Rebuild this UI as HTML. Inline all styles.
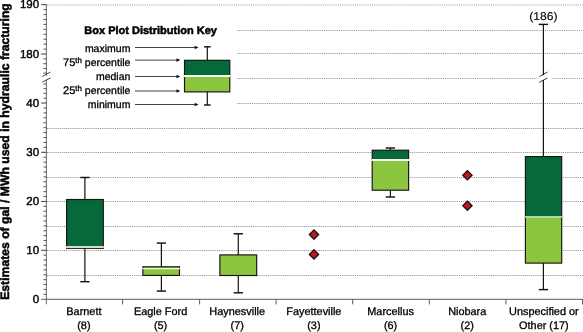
<!DOCTYPE html>
<html lang="en"><head><meta charset="utf-8"><title>Box plot</title>
<style>html,body{margin:0;padding:0;background:#fff}svg{display:block;will-change:transform}text{font-family:"Liberation Sans", Arial, Helvetica, sans-serif;fill:#000;stroke:#000;stroke-width:0.3px;text-rendering:geometricPrecision}.tk text{stroke-width:0.42px}text.b{stroke-width:0.5px}text.n{stroke-width:0.12px}</style></head><body>
<svg width="583" height="332" viewBox="0 0 583 332">
<rect width="583" height="332" fill="#fff"/>
<g stroke="#8e8e8e" stroke-width="1" stroke-dasharray="0.945 0.945" fill="none">
<line x1="47" y1="5.0" x2="583" y2="5.0" stroke="#9a9a9a"/>
<line x1="237" y1="30.5" x2="583" y2="30.5"/>
<line x1="237" y1="53.5" x2="583" y2="53.5"/>
<line x1="237" y1="78.5" x2="583" y2="78.5"/>
<line x1="237" y1="103.5" x2="583" y2="103.5"/>
<line x1="47" y1="128.5" x2="583" y2="128.5"/>
<line x1="47" y1="152.5" x2="583" y2="152.5"/>
<line x1="47" y1="177.5" x2="583" y2="177.5"/>
<line x1="47" y1="201.5" x2="583" y2="201.5"/>
<line x1="47" y1="226.5" x2="583" y2="226.5"/>
<line x1="47" y1="250.5" x2="583" y2="250.5"/>
<line x1="47" y1="275.5" x2="583" y2="275.5"/>
</g>
<g stroke="#777" stroke-width="1.1" fill="none">
<line x1="46.4" y1="4.2" x2="46.4" y2="75.8"/>
<line x1="46.4" y1="79.4" x2="46.4" y2="304.3"/>
</g>
<g stroke="#4a4a4a" stroke-width="0.9" fill="none">
<line x1="41.2" y1="299.3" x2="582.9" y2="299.3"/>
<line x1="41.2" y1="4.7" x2="46.4" y2="4.7" stroke="#3c3c3c" stroke-width="1"/>
<line x1="41.2" y1="54.0" x2="46.4" y2="54.0" stroke="#3c3c3c" stroke-width="1"/>
<line x1="41.2" y1="103.0" x2="46.4" y2="103.0" stroke="#3c3c3c" stroke-width="1"/>
<line x1="41.2" y1="152.3" x2="46.4" y2="152.3" stroke="#3c3c3c" stroke-width="1"/>
<line x1="41.2" y1="201.45" x2="46.4" y2="201.45" stroke="#3c3c3c" stroke-width="1"/>
<line x1="41.2" y1="250.3" x2="46.4" y2="250.3" stroke="#3c3c3c" stroke-width="1"/>
<line x1="43.4" y1="9.63" x2="46.4" y2="9.63"/>
<line x1="43.4" y1="14.56" x2="46.4" y2="14.56"/>
<line x1="43.4" y1="19.49" x2="46.4" y2="19.49"/>
<line x1="43.4" y1="24.42" x2="46.4" y2="24.42"/>
<line x1="43.4" y1="29.35" x2="46.4" y2="29.35"/>
<line x1="43.4" y1="34.28" x2="46.4" y2="34.28"/>
<line x1="43.4" y1="39.21" x2="46.4" y2="39.21"/>
<line x1="43.4" y1="44.14" x2="46.4" y2="44.14"/>
<line x1="43.4" y1="49.07" x2="46.4" y2="49.07"/>
<line x1="43.4" y1="107.93" x2="46.4" y2="107.93"/>
<line x1="43.4" y1="112.86" x2="46.4" y2="112.86"/>
<line x1="43.4" y1="117.79" x2="46.4" y2="117.79"/>
<line x1="43.4" y1="122.72" x2="46.4" y2="122.72"/>
<line x1="43.4" y1="127.65" x2="46.4" y2="127.65"/>
<line x1="43.4" y1="132.58" x2="46.4" y2="132.58"/>
<line x1="43.4" y1="137.51" x2="46.4" y2="137.51"/>
<line x1="43.4" y1="142.44" x2="46.4" y2="142.44"/>
<line x1="43.4" y1="147.37" x2="46.4" y2="147.37"/>
<line x1="43.4" y1="157.22" x2="46.4" y2="157.22"/>
<line x1="43.4" y1="162.13" x2="46.4" y2="162.13"/>
<line x1="43.4" y1="167.05" x2="46.4" y2="167.05"/>
<line x1="43.4" y1="171.96" x2="46.4" y2="171.96"/>
<line x1="43.4" y1="176.88" x2="46.4" y2="176.88"/>
<line x1="43.4" y1="181.79" x2="46.4" y2="181.79"/>
<line x1="43.4" y1="186.70" x2="46.4" y2="186.70"/>
<line x1="43.4" y1="191.62" x2="46.4" y2="191.62"/>
<line x1="43.4" y1="196.53" x2="46.4" y2="196.53"/>
<line x1="43.4" y1="206.33" x2="46.4" y2="206.33"/>
<line x1="43.4" y1="211.22" x2="46.4" y2="211.22"/>
<line x1="43.4" y1="216.10" x2="46.4" y2="216.10"/>
<line x1="43.4" y1="220.99" x2="46.4" y2="220.99"/>
<line x1="43.4" y1="225.88" x2="46.4" y2="225.88"/>
<line x1="43.4" y1="230.76" x2="46.4" y2="230.76"/>
<line x1="43.4" y1="235.65" x2="46.4" y2="235.65"/>
<line x1="43.4" y1="240.53" x2="46.4" y2="240.53"/>
<line x1="43.4" y1="245.42" x2="46.4" y2="245.42"/>
<line x1="43.4" y1="255.19" x2="46.4" y2="255.19"/>
<line x1="43.4" y1="260.08" x2="46.4" y2="260.08"/>
<line x1="43.4" y1="264.97" x2="46.4" y2="264.97"/>
<line x1="43.4" y1="269.86" x2="46.4" y2="269.86"/>
<line x1="43.4" y1="274.75" x2="46.4" y2="274.75"/>
<line x1="43.4" y1="279.64" x2="46.4" y2="279.64"/>
<line x1="43.4" y1="284.53" x2="46.4" y2="284.53"/>
<line x1="43.4" y1="289.42" x2="46.4" y2="289.42"/>
<line x1="43.4" y1="294.31" x2="46.4" y2="294.31"/>
<line x1="43.4" y1="58.90" x2="46.4" y2="58.90"/>
<line x1="43.4" y1="63.70" x2="46.4" y2="63.70"/>
<line x1="43.4" y1="68.50" x2="46.4" y2="68.50"/>
<line x1="43.4" y1="73.10" x2="46.4" y2="73.10"/>
<line x1="43.4" y1="98.20" x2="46.4" y2="98.20"/>
<line x1="43.4" y1="93.40" x2="46.4" y2="93.40"/>
<line x1="43.4" y1="88.60" x2="46.4" y2="88.60"/>
<line x1="43.4" y1="83.90" x2="46.4" y2="83.90"/>
<line x1="122.6" y1="299.2" x2="122.6" y2="304.4"/>
<line x1="199.6" y1="299.2" x2="199.6" y2="304.4"/>
<line x1="276.1" y1="299.2" x2="276.1" y2="304.4"/>
<line x1="352.7" y1="299.2" x2="352.7" y2="304.4"/>
<line x1="429.3" y1="299.2" x2="429.3" y2="304.4"/>
<line x1="505.9" y1="299.2" x2="505.9" y2="304.4"/>
<line x1="582.5" y1="299.2" x2="582.5" y2="304.4"/>
</g>
<g stroke="#333" stroke-width="0.9" fill="none">
<line x1="42.3" y1="76.5" x2="50.5" y2="72"/><line x1="42.3" y1="82.1" x2="50.5" y2="77.9"/>
</g>
<g class="tk" font-size="11.5" text-anchor="end">
<text x="39.1" y="8.1">190</text>
<text x="39.1" y="57.6">180</text>
<text x="39.1" y="106.7">40</text>
<text x="39.1" y="156.0">30</text>
<text x="39.1" y="205.1">20</text>
<text x="39.1" y="254.0">10</text>
<text x="39.1" y="302.8">0</text>
</g>
<text transform="translate(9.1,151.5) rotate(-90)" text-anchor="middle" font-size="12.2" font-weight="bold" class="b">Estimates of gal / MWh used in hydraulic fracturing</text>
<g font-size="10.9" text-anchor="middle">
<text x="83.9" y="315.4">Barnett</text><text x="83.9" y="329.2">(8)</text>
<text x="160.6" y="315.4">Eagle Ford</text><text x="160.6" y="329.2">(5)</text>
<text x="237.2" y="315.4">Haynesville</text><text x="237.2" y="329.2">(7)</text>
<text x="313.9" y="315.4">Fayetteville</text><text x="313.9" y="329.2">(3)</text>
<text x="390.6" y="315.4">Marcellus</text><text x="390.6" y="329.2">(6)</text>
<text x="467.2" y="315.4">Niobara</text><text x="467.2" y="329.2">(2)</text>
<text x="543.9" y="315.4">Unspecified or</text><text x="543.9" y="329.2">Other (17)</text>
</g>
<text x="84.3" y="33.8" font-size="11" font-weight="bold" class="b">Box Plot Distribution Key</text>
<g font-size="10.5" text-anchor="end">
<text x="130.4" y="51.5">maximum</text>
<text x="130.4" y="65.8"><tspan font-size="11.1">75</tspan><tspan font-size="7.9" dy="-3.3">th</tspan><tspan dy="3.3"> percentile</tspan></text>
<text x="130.4" y="79.7">median</text>
<text x="130.4" y="93.8"><tspan font-size="11.1">25</tspan><tspan font-size="7.9" dy="-3.3">th</tspan><tspan dy="3.3"> percentile</tspan></text>
<text x="130.4" y="107.7">minimum</text>
</g>
<g stroke="#222" stroke-width="0.85" fill="#111">
<line x1="135" y1="47.5" x2="196.5" y2="47.5"/><path d="M198.5 47.5 l-3.8 -1.8 v3.6z" stroke="none"/>
<line x1="135" y1="60.1" x2="178.3" y2="60.1"/><path d="M180.3 60.1 l-3.8 -1.8 v3.6z" stroke="none"/>
<line x1="135" y1="76.5" x2="178.3" y2="76.5"/><path d="M180.3 76.5 l-3.8 -1.8 v3.6z" stroke="none"/>
<line x1="135" y1="91.0" x2="178.3" y2="91.0"/><path d="M180.3 91.0 l-3.8 -1.8 v3.6z" stroke="none"/>
<line x1="135" y1="104.5" x2="196.5" y2="104.5"/><path d="M198.5 104.5 l-3.8 -1.8 v3.6z" stroke="none"/>
</g>
<g stroke="#131313" stroke-width="1.2" fill="none">
<line x1="207.3" y1="46.8" x2="207.3" y2="60.3"/>
<line x1="207.3" y1="91.9" x2="207.3" y2="105"/>
<line x1="204.0" y1="46.8" x2="210.60000000000002" y2="46.8" stroke-width="1.45"/>
<line x1="204.0" y1="105" x2="210.60000000000002" y2="105" stroke-width="1.45"/>
</g>
<rect x="184.5" y="60.3" width="45.3" height="15.7" fill="#06693a"/>
<rect x="184.5" y="76.0" width="45.3" height="15.9" fill="#8cc63f"/>
<rect x="184.5" y="60.3" width="45.3" height="31.6" fill="none" stroke="#131313" stroke-width="1.15"/>
<line x1="183.9" y1="76.0" x2="230.4" y2="76.0" stroke="#fff" stroke-width="1.9"/>
<g stroke="#131313" stroke-width="1.2" fill="none">
<line x1="84.9" y1="177.5" x2="84.9" y2="199.5"/>
<line x1="84.9" y1="248.3" x2="84.9" y2="281.7"/>
<line x1="80.25" y1="177.5" x2="89.55000000000001" y2="177.5" stroke-width="1.45"/>
<line x1="80.25" y1="281.7" x2="89.55000000000001" y2="281.7" stroke-width="1.45"/>
</g>
<rect x="66.6" y="199.5" width="36.7" height="47.4" fill="#06693a"/>
<rect x="66.6" y="246.9" width="36.7" height="1.4" fill="#8cc63f"/>
<rect x="66.6" y="199.5" width="36.7" height="48.8" fill="none" stroke="#131313" stroke-width="1.15"/>
<line x1="66.0" y1="246.9" x2="103.89999999999999" y2="246.9" stroke="#fff" stroke-width="1.5"/>
<g stroke="#131313" stroke-width="1.2" fill="none">
<line x1="161.4" y1="243.1" x2="161.4" y2="266.8"/>
<line x1="161.4" y1="275.4" x2="161.4" y2="291.1"/>
<line x1="156.75" y1="243.1" x2="166.05" y2="243.1" stroke-width="1.45"/>
<line x1="156.75" y1="291.1" x2="166.05" y2="291.1" stroke-width="1.45"/>
</g>
<rect x="142.9" y="266.8" width="36.6" height="1.8" fill="#8cc63f"/>
<rect x="142.9" y="268.6" width="36.6" height="6.8" fill="#8cc63f"/>
<rect x="142.9" y="266.8" width="36.6" height="8.6" fill="none" stroke="#131313" stroke-width="1.15"/>
<line x1="142.3" y1="268.6" x2="180.1" y2="268.6" stroke="#f1f8e2" stroke-width="1.3"/>
<g stroke="#131313" stroke-width="1.2" fill="none">
<line x1="238.3" y1="233.8" x2="238.3" y2="254.9"/>
<line x1="238.3" y1="275.5" x2="238.3" y2="292.8"/>
<line x1="233.65" y1="233.8" x2="242.95000000000002" y2="233.8" stroke-width="1.45"/>
<line x1="233.65" y1="292.8" x2="242.95000000000002" y2="292.8" stroke-width="1.45"/>
</g>
<rect x="219.9" y="254.9" width="36.8" height="20.6" fill="#8cc63f"/>
<rect x="219.9" y="254.9" width="36.8" height="20.6" fill="none" stroke="#131313" stroke-width="1.15"/>
<g stroke="#131313" stroke-width="1.2" fill="none">
<line x1="390.4" y1="148" x2="390.4" y2="150.2"/>
<line x1="390.4" y1="190.2" x2="390.4" y2="197"/>
<line x1="385.75" y1="148" x2="395.04999999999995" y2="148" stroke-width="1.45"/>
<line x1="385.75" y1="197" x2="395.04999999999995" y2="197" stroke-width="1.45"/>
</g>
<rect x="372.2" y="150.2" width="36.4" height="9.8" fill="#06693a"/>
<rect x="372.2" y="160" width="36.4" height="30.2" fill="#8cc63f"/>
<rect x="372.2" y="150.2" width="36.4" height="40.0" fill="none" stroke="#131313" stroke-width="1.15"/>
<line x1="371.59999999999997" y1="160" x2="409.20000000000005" y2="160" stroke="#fff" stroke-width="1.9"/>
<g stroke="#131313" stroke-width="1.2" fill="none">
<line x1="543.4" y1="24.4" x2="543.4" y2="156.6"/>
<line x1="543.4" y1="263.1" x2="543.4" y2="289.6"/>
<line x1="538.75" y1="24.4" x2="548.05" y2="24.4" stroke-width="1.45"/>
<line x1="538.75" y1="289.6" x2="548.05" y2="289.6" stroke-width="1.45"/>
</g>
<rect x="525.4" y="156.6" width="36.3" height="60.3" fill="#06693a"/>
<rect x="525.4" y="216.9" width="36.3" height="46.2" fill="#8cc63f"/>
<rect x="525.4" y="156.6" width="36.3" height="106.5" fill="none" stroke="#131313" stroke-width="1.15"/>
<line x1="524.8" y1="216.9" x2="562.3000000000001" y2="216.9" stroke="#e4f2da" stroke-width="1.4"/>
<rect x="537" y="77" width="14.7" height="3" fill="#fff"/><path d="M539.3 77.4 L547.5 72.9 L547.5 77.2 L539.3 81.5z" fill="#fff"/>
<g stroke="#222" stroke-width="0.9"><line x1="539.3" y1="76.6" x2="547.5" y2="72.1"/><line x1="539.3" y1="82.3" x2="547.5" y2="78"/></g>
<text class="n" x="543.4" y="20" font-size="11.3" text-anchor="middle" textLength="28.2" lengthAdjust="spacingAndGlyphs">(186)</text>
<g fill="#c5161d" stroke="#1c1213" stroke-width="1.35">
<path d="M314 230.0 l4.6 4.6 l-4.6 4.6 l-4.6 -4.6z"/>
<path d="M314 249.8 l4.6 4.6 l-4.6 4.6 l-4.6 -4.6z"/>
<path d="M467.4 170.70000000000002 l4.6 4.6 l-4.6 4.6 l-4.6 -4.6z"/>
<path d="M467.4 201.1 l4.6 4.6 l-4.6 4.6 l-4.6 -4.6z"/>
</g>
</svg></body></html>
